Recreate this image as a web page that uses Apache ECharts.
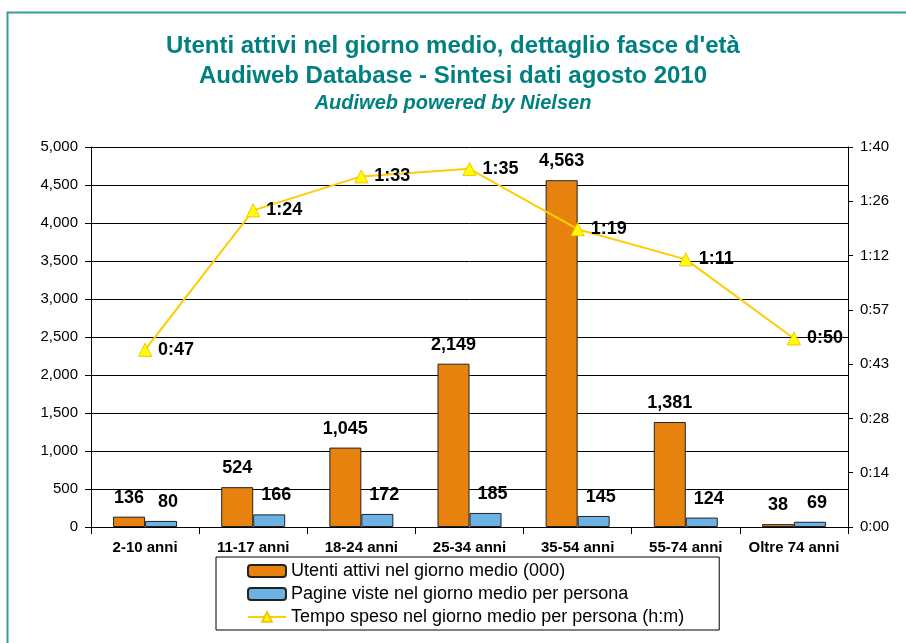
<!DOCTYPE html>
<html>
<head>
<meta charset="utf-8">
<script src="https://cdn.jsdelivr.net/npm/echarts@6/dist/echarts.min.js"></script>
<style>
html,body{margin:0;padding:0;background:#fff;}
#c{width:906px;height:643px;}
</style>
</head>
<body>
<div id="c"></div>
<script>
const categories = ['2-10 anni','11-17 anni','18-24 anni','25-34 anni','35-54 anni','55-74 anni','Oltre 74 anni'];
const utenti = [136, 524, 1045, 2149, 4563, 1381, 38];
const pagine = [80, 166, 172, 185, 145, 124, 69];
const tempoMin = [47, 84, 93, 95, 79, 71, 50];
const rightTickLabels = ['0:00','0:14','0:28','0:43','0:57','1:12','1:26','1:40'];
const seriesNames = ['Utenti attivi nel giorno medio (000)','Pagine viste nel giorno medio per persona','Tempo speso nel giorno medio per persona (h:m)'];

const FONT = 'Liberation Sans, Arial, sans-serif';
const TEAL = '#008080';
function fmtNum(v){ return Number(v).toLocaleString('en-US'); }
function fmtHM(m){ const h = Math.floor(m/60); const mm = Math.round(m - h*60); return h + ':' + (mm<10?'0':'') + mm; }

const chart = echarts.init(document.getElementById('c'), null, {renderer:'canvas'});
chart.setOption({
  backgroundColor:'#fff',
  textStyle:{fontFamily:FONT},
  animation:false,
  graphic:[{type:'rect', left:5, top:10, shape:{width:940, height:700}, style:{fill:'none', stroke:'#3a9a9a', lineWidth:2}, silent:true}],
  title:[
    {text:"Utenti attivi nel giorno medio, dettaglio fasce d'età", left:'center', top:34, padding:0, textStyle:{fontFamily:FONT, fontSize:24, fontWeight:'bold', color:TEAL}},
    {text:'Audiweb Database - Sintesi dati agosto 2010', left:'center', top:64, padding:0, textStyle:{fontFamily:FONT, fontSize:24, fontWeight:'bold', color:TEAL}},
    {text:'Audiweb powered by Nielsen', left:'center', top:93, padding:0, textStyle:{fontFamily:FONT, fontSize:20, fontWeight:'bold', fontStyle:'italic', color:TEAL}}
  ],
  legend:{
    orient:'vertical', left:216, top:557,
    data:seriesNames,
    itemWidth:38, itemHeight:12, itemGap:5,
    padding:[5,35,4,31],
    borderColor:'#000', borderWidth:1, borderRadius:0,
    textStyle:{fontFamily:FONT, fontSize:18, color:'#000'}
  },
  grid:{left:91, right:58, top:147, bottom:116, containLabel:false},
  xAxis:{
    type:'category', data:categories,
    axisLine:{lineStyle:{color:'#000'}},
    axisTick:{show:true, length:7, lineStyle:{color:'#000'}},
    axisLabel:{fontFamily:FONT, fontSize:15, fontWeight:'bold', color:'#000', margin:13, interval:0}
  },
  yAxis:[
    {type:'value', min:0, max:5000, interval:500,
     axisLine:{show:true, lineStyle:{color:'#000'}},
     axisTick:{show:true, length:6, lineStyle:{color:'#000'}},
     axisLabel:{fontFamily:FONT, fontSize:15, color:'#000', margin:13, formatter:fmtNum},
     splitLine:{show:true, lineStyle:{color:'#000', width:1}}},
    {type:'value', min:0, max:100.8, interval:14.4, position:'right',
     axisLine:{show:true, lineStyle:{color:'#000'}},
     axisTick:{show:true, length:5, lineStyle:{color:'#000'}},
     axisLabel:{fontFamily:FONT, fontSize:15, color:'#000', margin:12, formatter:function(v){ return rightTickLabels[Math.round(v/14.4)] || ''; }},
     splitLine:{show:false}}
  ],
  series:[
    {name:seriesNames[0], type:'bar', data:utenti, barWidth:32, barGap:'0%', barCategoryGap:'40%',
     itemStyle:{color:'#E8820F', borderColor:'#222', borderWidth:1},
     label:{show:true, position:'top', distance:10, fontFamily:FONT, fontSize:18, fontWeight:'bold', color:'#000', formatter:function(p){return fmtNum(p.value);}}},
    {name:seriesNames[1], type:'bar', data:pagine, barWidth:32, barGap:'0%',
     itemStyle:{color:'#6CB2E5', borderColor:'#222', borderWidth:1},
     label:{show:true, position:'top', distance:10, offset:[7,0], fontFamily:FONT, fontSize:18, fontWeight:'bold', color:'#000', formatter:function(p){return fmtNum(p.value);}}},
    {name:seriesNames[2], type:'line', yAxisIndex:1, data:tempoMin, z:5,
     symbol:'triangle', symbolSize:13,
     lineStyle:{color:'#FFCC00', width:2},
     itemStyle:{color:'#FFFF00', borderColor:'#F5C400', borderWidth:1},
     label:{show:true, position:'right', distance:6, fontFamily:FONT, fontSize:18, fontWeight:'bold', color:'#000', formatter:function(p){return fmtHM(p.value);}}}
  ]
});
</script>
</body>
</html>
